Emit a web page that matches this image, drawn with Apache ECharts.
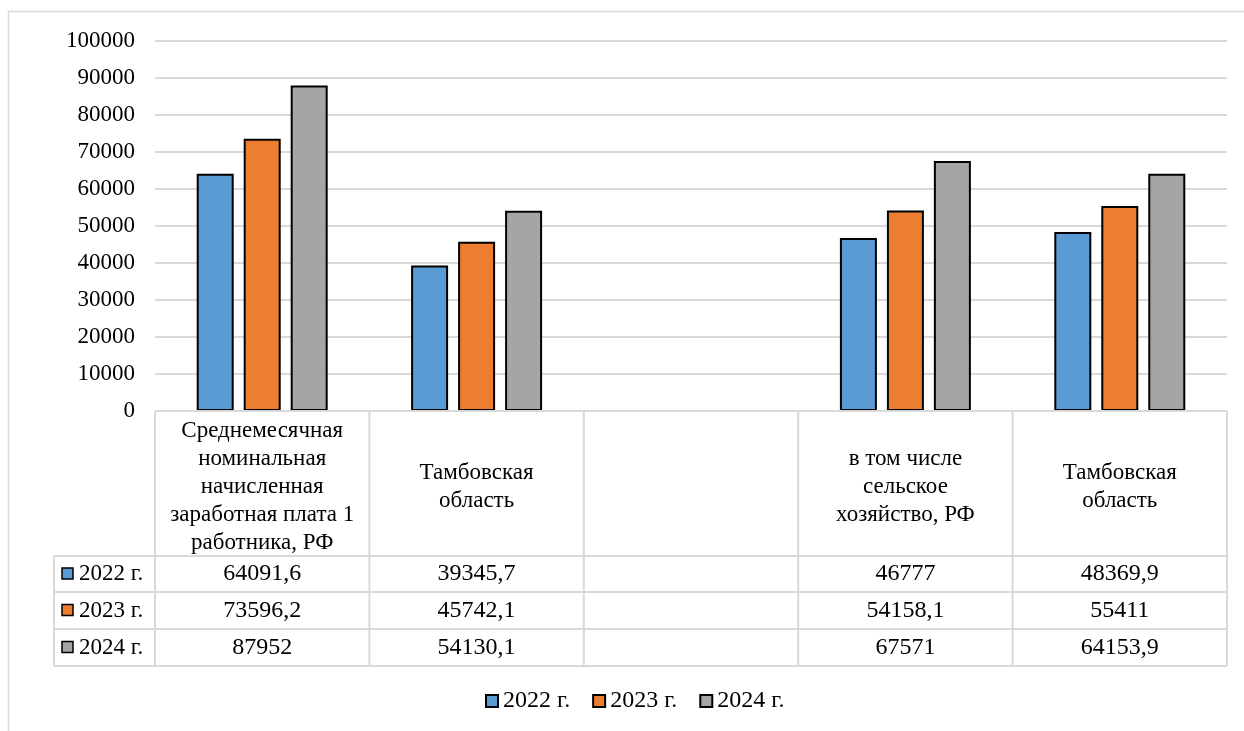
<!DOCTYPE html>
<html>
<head>
<meta charset="utf-8">
<script src="https://cdn.jsdelivr.net/npm/echarts@6/dist/echarts.min.js"></script>
<style>
html,body{margin:0;padding:0;background:#fff;}
#main{width:1244px;height:731px;}
</style>
</head>
<body>
<div id="main"></div>
<script>
const categories = [
  "Среднемесячная\nноминальная\nначисленная\nзаработная плата 1\nработника, РФ",
  "Тамбовская\nобласть",
  "",
  "в том числе\nсельское\nхозяйство, РФ",
  "Тамбовская\nобласть"
];
const seriesNames = ["2022 г.", "2023 г.", "2024 г."];
const values2022 = [64091.6, 39345.7, null, 46777, 48369.9];
const values2023 = [73596.2, 45742.1, null, 54158.1, 55411];
const values2024 = [87952, 54130.1, null, 67571, 64153.9];
const colors = ["#5B9BD5", "#ED7D31", "#A5A5A5"];
const yTicks = [0, 10000, 20000, 30000, 40000, 50000, 60000, 70000, 80000, 90000, 100000];

const FONT = "'Liberation Serif', 'Times New Roman', serif";
const FS = 23;
const FSV = 24;
const chart = echarts.init(document.getElementById('main'));

const plotLeft = 155, plotRight = 1227, plotTop = 41, plotBottom = 411;
const rowBounds = [411, 556, 592, 629, 666];
const tableLeft = 54;
const allValues = [values2022, values2023, values2024];

function fmt(v) {
  return v == null ? "" : String(v).replace('.', ',');
}

const graphics = [];
graphics.push({type:'rect', shape:{x:8.5, y:11.5, width:2000, height:2000},
  style:{fill:'none', stroke:'#d9d9d9', lineWidth:1.5}, silent:true, z:-10});

const n = categories.length;
const catW = (plotRight - plotLeft) / n;
const lineStyle = {stroke:'#d9d9d9', lineWidth:2};
graphics.push({type:'line', shape:{x1:plotLeft, y1:rowBounds[0], x2:plotRight, y2:rowBounds[0]}, style:lineStyle, z:5});
for (let r = 1; r < rowBounds.length; r++) {
  graphics.push({type:'line', shape:{x1:tableLeft, y1:rowBounds[r], x2:plotRight, y2:rowBounds[r]}, style:lineStyle, z:5});
}
graphics.push({type:'line', shape:{x1:tableLeft, y1:rowBounds[1], x2:tableLeft, y2:rowBounds[4]}, style:lineStyle, z:5});
for (let i = 0; i <= n; i++) {
  const x = plotLeft + i * catW;
  graphics.push({type:'line', shape:{x1:x, y1:rowBounds[0], x2:x, y2:rowBounds[4]}, style:lineStyle, z:5});
}
categories.forEach((c, i) => {
  graphics.push({type:'text', x: plotLeft + (i + 0.5) * catW, y: (rowBounds[0] + rowBounds[1]) / 2 + 3,
    style:{text:c, font: FS + 'px ' + FONT, fill:'#000', align:'center', verticalAlign:'middle', lineHeight:28}, z:6});
});
allValues.forEach((vals, r) => {
  const yc = (rowBounds[r + 1] + rowBounds[r + 2]) / 2;
  graphics.push({type:'rect', shape:{x:62, y:yc - 6, width:11, height:11},
    style:{fill:colors[r], stroke:'#000', lineWidth:1.5}, z:6});
  graphics.push({type:'text', x:79, y:yc, style:{text:seriesNames[r], font: FS + 'px ' + FONT, fill:'#000', align:'left', verticalAlign:'middle'}, z:6});
  vals.forEach((v, i) => {
    graphics.push({type:'text', x: plotLeft + (i + 0.5) * catW, y: yc,
      style:{text:fmt(v), font: FSV + 'px ' + FONT, fill:'#000', align:'center', verticalAlign:'middle'}, z:6});
  });
});

function mkSeries(name, data, color) {
  return {
    name, type:'bar', data,
    barWidth:37, barGap:'27%',
    itemStyle:{color, borderColor:'#000', borderWidth:2},
    emphasis:{disabled:true},
    animation:false
  };
}

chart.setOption({
  animation:false,
  backgroundColor:'#fff',
  textStyle:{fontFamily:FONT},
  grid:{left:plotLeft, right:1244 - plotRight, top:plotTop, bottom:731 - plotBottom, containLabel:false},
  legend:{
    bottom:13, left:480,
    icon:'rect', itemWidth:12, itemHeight:12, itemGap:22,
    textStyle:{fontFamily:FONT, fontSize:24, color:'#000'},
    data:seriesNames
  },
  xAxis:{
    type:'category', data:categories,
    axisLine:{show:false}, axisTick:{show:false}, axisLabel:{show:false}, splitLine:{show:false}
  },
  yAxis:{
    type:'value', min:yTicks[0], max:yTicks[yTicks.length - 1], interval:yTicks[1] - yTicks[0],
    axisLine:{show:false}, axisTick:{show:false},
    axisLabel:{fontFamily:FONT, fontSize:FS, color:'#000', margin:20, formatter:(v) => String(v)},
    splitLine:{lineStyle:{color:'#d9d9d9', width:2}}
  },
  series:[
    mkSeries(seriesNames[0], values2022, colors[0]),
    mkSeries(seriesNames[1], values2023, colors[1]),
    mkSeries(seriesNames[2], values2024, colors[2])
  ],
  graphic:graphics
});
</script>
</body>
</html>
